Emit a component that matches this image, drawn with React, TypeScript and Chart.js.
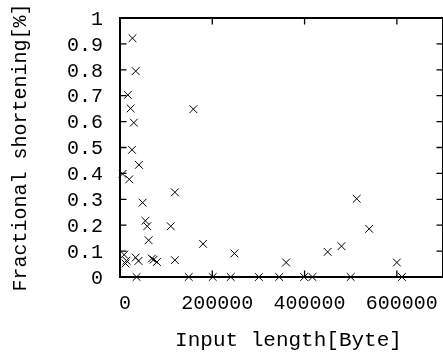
import React, { useEffect, useRef } from "react";
import { Chart, registerables } from "chart.js";

Chart.register(...registerables);

// Input length [Byte]
const inputLength = [
  27000, 34000, 17000, 23000, 30000, 159000, 26000, 41000, 5500, 20000,
  119000, 49000, 55000, 59000, 110000, 62000, 180000, 248000, 450000, 480000,
  513000, 540000, 600000, 360000, 9000, 14000, 12000, 34000, 40000, 69000,
  73000, 80000, 119000,
  36000, 149000, 201000, 240000, 301000, 345000, 399000, 417000, 500000, 611000,
];
// Fractional shortening
const shortening = [
  0.922, 0.795, 0.703, 0.651, 0.596, 0.648, 0.491, 0.433, 0.398, 0.377,
  0.327, 0.287, 0.217, 0.196, 0.196, 0.142, 0.128, 0.091, 0.097, 0.119,
  0.302, 0.186, 0.056, 0.056, 0.086, 0.063, 0.052, 0.075, 0.062, 0.071,
  0.067, 0.058, 0.065,
  0, 0, 0, 0, 0, 0, 0, 0, 0, 0,
];

const xTickValues = [0, 200000, 400000, 600000];
const xTickLabels = ["0", "200000", "400000", "600000"];
const yTickValues = [0, 0.1, 0.2, 0.3, 0.4, 0.5, 0.6, 0.7, 0.8, 0.9, 1];
const yTickLabels = ["0", "0.1", "0.2", "0.3", "0.4", "0.5", "0.6", "0.7", "0.8", "0.9", "1"];

const xTitle = "Input length[Byte]";
const yTitle = "Fractional shortening[%]";

const FAMILY = '"Liberation Mono", monospace';
const SIZE = 20;

const framePlugin = {
  id: "gnuframe",
  beforeDatasetsDraw(chart: any) {
    const { ctx, chartArea, scales } = chart;
    const { left, right, top, bottom } = chartArea;
    const x = scales.x;
    const y = scales.y;
    ctx.save();
    ctx.strokeStyle = "#000";
    ctx.lineWidth = 2;
    ctx.strokeRect(left, top, right - left, bottom - top);
    const tl = 6.5;
    ctx.lineWidth = 1.3;
    ctx.beginPath();
    x.ticks.forEach((t: any) => {
      const px = x.getPixelForValue(t.value);
      ctx.moveTo(px, bottom);
      ctx.lineTo(px, bottom - tl);
      ctx.moveTo(px, top);
      ctx.lineTo(px, top + tl);
    });
    y.ticks.forEach((t: any) => {
      const py = y.getPixelForValue(t.value);
      ctx.moveTo(left, py);
      ctx.lineTo(left + tl, py);
      ctx.moveTo(right, py);
      ctx.lineTo(right - tl, py);
    });
    ctx.stroke();
    ctx.font = `21px ${FAMILY}`;
    ctx.fillStyle = "#000";
    ctx.textAlign = "center";
    ctx.textBaseline = "alphabetic";
    ctx.fillText(xTitle, (left + right) / 2 + 7, chart.height - 10);
    ctx.restore();
  },
};

export default function App() {
  const ref = useRef<HTMLCanvasElement | null>(null);
  useEffect(() => {
    if (!ref.current) return;
    const points = inputLength.map((v, i) => ({ x: v, y: shortening[i] }));
    const chart = new Chart(ref.current, {
      type: "scatter",
      data: {
        datasets: [
          {
            data: points,
            pointStyle: "crossRot",
            pointRadius: 5.5,
            pointHoverRadius: 5.5,
            borderColor: "#000",
            backgroundColor: "#000",
            borderWidth: 1,
            clip: false as any,
          },
        ],
      },
      options: {
        responsive: false,
        animation: false,
        events: [],
        layout: { autoPadding: false, padding: { top: 18, right: -1.5, left: 0, bottom: 0 } },
        plugins: {
          legend: { display: false },
          tooltip: { enabled: false },
        },
        scales: {
          x: {
            type: "linear",
            min: 0,
            max: 700000,
            afterBuildTicks: (s: any) => {
              s.ticks = xTickValues.map((v) => ({ value: v }));
            },
            afterFit: (s: any) => {
              s.height = 79;
              s.paddingLeft = 0;
              s.paddingRight = 0;
            },
            grid: { display: false, drawTicks: false },
            border: { display: false },
            ticks: {
              padding: 15,
              labelOffset: 5,
              maxRotation: 0,
              autoSkip: false,
              color: "#000",
              font: { family: FAMILY, size: SIZE },
              callback: (_v: any, i: number) => xTickLabels[i],
            },
          },
          y: {
            type: "linear",
            min: 0,
            max: 1,
            afterBuildTicks: (s: any) => {
              s.ticks = yTickValues.map((v) => ({ value: v }));
            },
            afterFit: (s: any) => {
              s.width = 120;
              s.paddingTop = 0;
              s.paddingBottom = 0;
            },
            grid: { display: false, drawTicks: false },
            border: { display: false },
            title: {
              display: true,
              text: yTitle,
              color: "#000",
              font: { family: FAMILY, size: SIZE },
              padding: { top: 9, bottom: 0 },
            },
            ticks: {
              padding: 17,
              labelOffset: 1.5,
              autoSkip: false,
              color: "#000",
              font: { family: FAMILY, size: SIZE },
              callback: (_v: any, i: number) => yTickLabels[i],
            },
          },
        },
      },
      plugins: [framePlugin],
    });
    return () => chart.destroy();
  }, []);
  return (
    <canvas
      ref={ref}
      width={443}
      height={356}
      style={{ position: "absolute", left: 0, top: 0, display: "block" }}
    />
  );
}
